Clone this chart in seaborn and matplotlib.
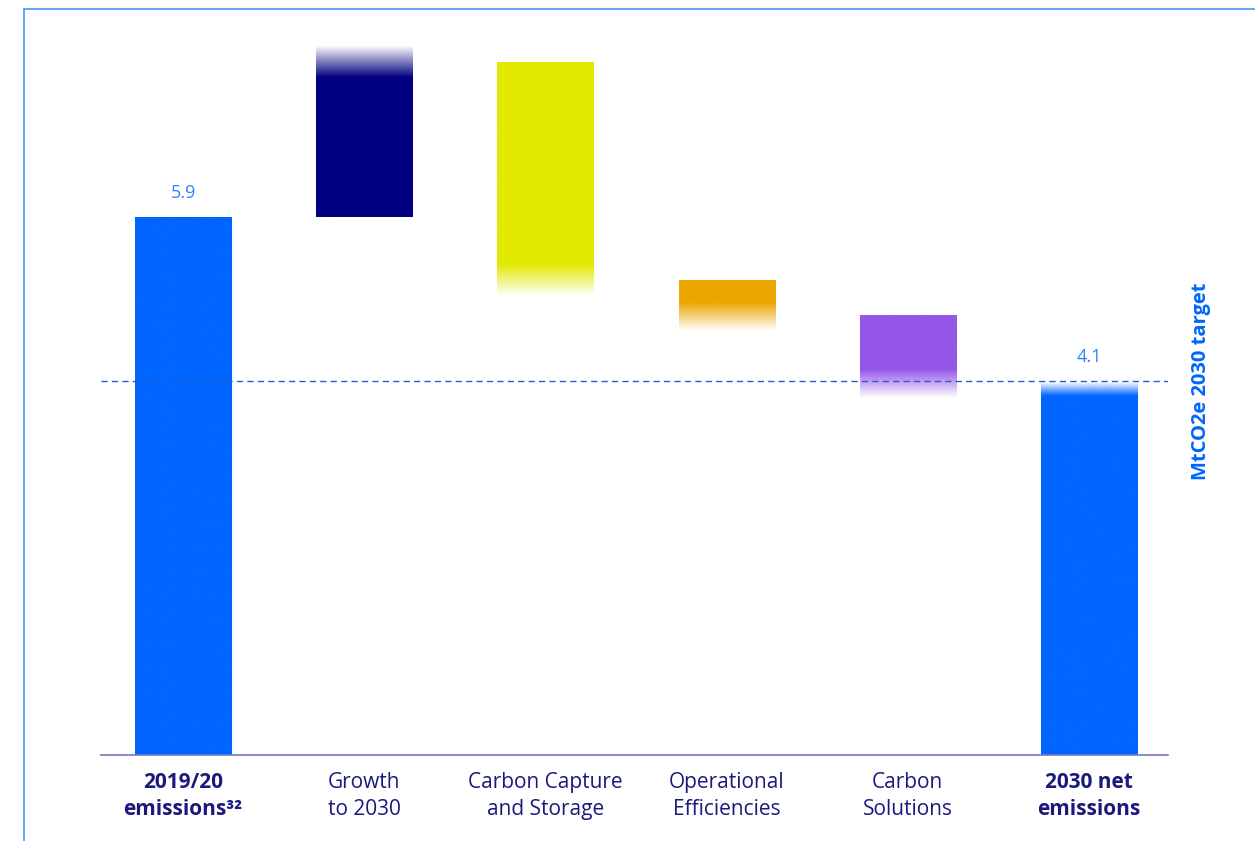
import numpy as np
import pandas as pd
import matplotlib.pyplot as plt
from matplotlib.colors import to_rgb
from matplotlib.lines import Line2D
import seaborn as sns

# data (MtCO2e)
categories = ["2019/20\nemissions³²", "Growth\nto 2030", "Carbon Capture\nand Storage",
              "Operational\nEfficiencies", "Carbon\nSolutions", "2030 net\nemissions"]
bar_bottom = [0.0, 5.9, 5.02, 4.65, 3.91, 0.0]
bar_top = [5.9, 7.78, 7.59, 5.20, 4.81, 4.1]
value_labels = {0: "5.9", 5: "4.1"}
target = 4.1
target_label = "MtCO2e 2030 target"

# styling
colors = ["#0066ff", "#000080", "#e1e900", "#eda600", "#9457e8", "#0066ff"]
fade_len = [0, 0.35, 0.36, 0.31, 0.31, 0.15]
fade_side = [None, "top", "bottom", "bottom", "bottom", "top"]
bold_ticks = [0, 5]
navy = "#1a1a7e"

df = pd.DataFrame({"cat": categories,
                   "height": np.subtract(bar_top, bar_bottom)})

sns.set_theme(style="white")
plt.rcParams["font.family"] = ["Open Sans", "DejaVu Sans"]

fig = plt.figure(figsize=(12.55, 8.41), dpi=100)
ax = fig.add_axes([0.0805, 0.1023, 0.8502, 0.8739])

sns.barplot(data=df, x="cat", y="height", bottom=bar_bottom, width=0.53,
            color=colors[0], saturation=1, ax=ax, zorder=2)

# colour each bar with a vertical fade
for i, p in enumerate(ax.patches):
    x0, y0, w, h = p.get_x(), p.get_y(), p.get_width(), p.get_height()
    p.set_facecolor("none")
    p.set_edgecolor("none")
    n = 200
    yy = np.linspace(y0, y0 + h, n)
    alpha = np.ones(n)
    if fade_side[i] == "top":
        alpha = np.clip((y0 + h - yy) / fade_len[i], 0, 1)
    elif fade_side[i] == "bottom":
        alpha = np.clip((yy - y0) / fade_len[i], 0, 1)
    rgba = np.zeros((n, 1, 4))
    rgba[:, 0, :3] = to_rgb(colors[i])
    rgba[:, 0, 3] = alpha
    ax.imshow(rgba, extent=[x0, x0 + w, y0, y0 + h], origin="lower",
              aspect="auto", interpolation="bilinear", zorder=2)

for i, txt in value_labels.items():
    ax.text(i, bar_top[i] + 0.26, txt, ha="center", va="center",
            color="#3380ff", fontsize=13)

ax.axhline(target, color="#1f5fd6", lw=1, dashes=(4.5, 3), zorder=3)

ax.set_xlim(-0.453, 5.436)
ax.set_ylim(0, 8.06)
ax.set_xlabel("")
ax.set_ylabel("")
ax.set_yticks([])
ax.tick_params(axis="x", length=0, pad=12)
ax.set_xticks(range(len(categories)))
ax.set_xticklabels(categories, fontsize=15, color=navy, linespacing=1.37)
for i in bold_ticks:
    ax.get_xticklabels()[i].set_fontweight("bold")

for s in ["top", "right", "left"]:
    ax.spines[s].set_visible(False)
ax.spines["bottom"].set_color("#7777c4")
ax.spines["bottom"].set_linewidth(1.2)

fig.text(0.957, 1 - 381 / 841, target_label, rotation=90, ha="center",
         va="center", color="#0066ff", fontsize=14.5, fontweight="bold")

# page frame lines
fig.add_artist(Line2D([0.0191, 1.0], [0.9893, 0.9893], color="#4d94ff", lw=1.2))
fig.add_artist(Line2D([0.0191, 0.0191], [0.0, 0.9893], color="#4d94ff", lw=1.2))

fig.savefig("out.png", dpi=100, facecolor="white")
